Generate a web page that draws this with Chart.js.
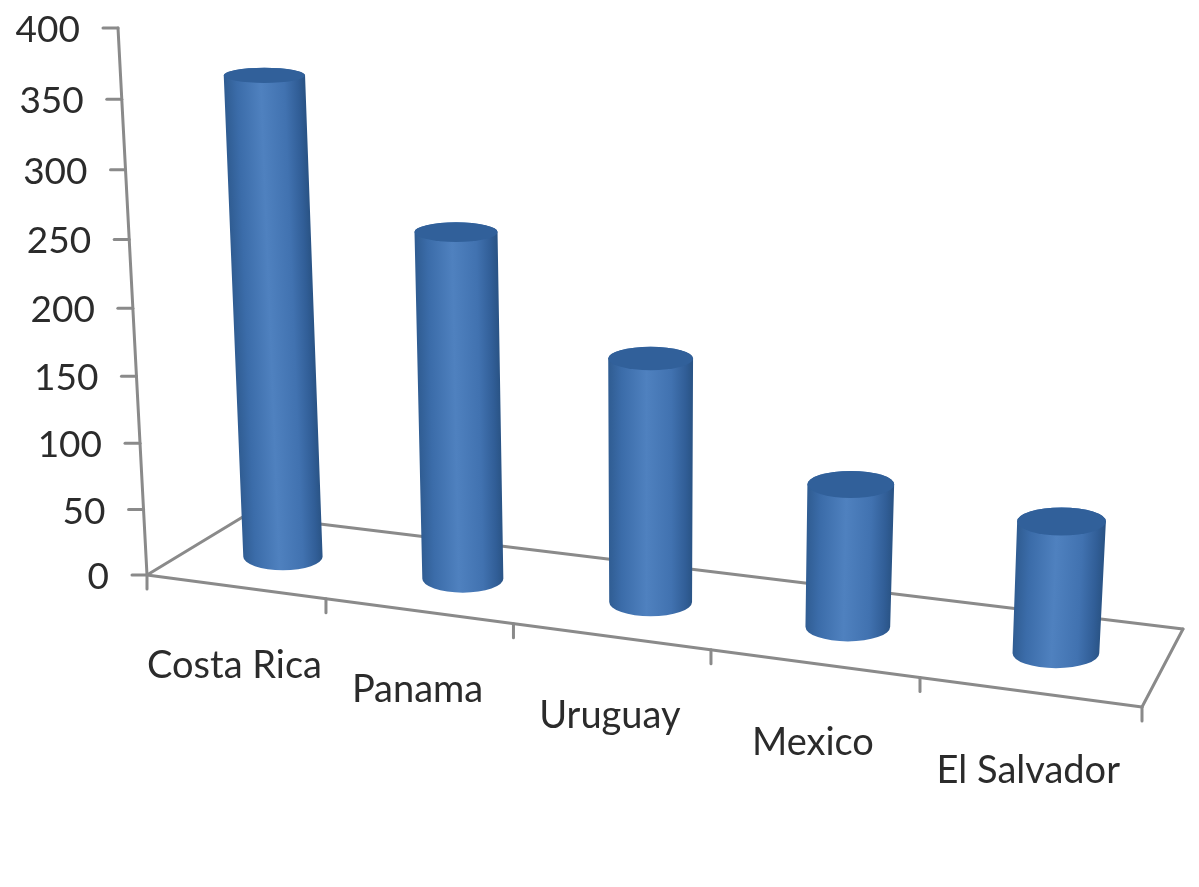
<!DOCTYPE html>
<html lang="en">
<head>
  <meta charset="UTF-8">
  <title>Cylinder chart</title>
  <script src="https://cdn.jsdelivr.net/npm/chart.js"></script>
  <style>
    html, body { margin: 0; background: #fff; }
    canvas { display: block; }
  </style>
</head>
<body>
  <canvas id="chart" width="1199" height="887"></canvas>

  <script>
    const countries = ['Costa Rica', 'Panama', 'Uruguay', 'Mexico', 'El Salvador'];
    const values = [354, 258, 183, 108, 100];
    const yMax = 400;
    const yStep = 50;

    const FONT_Y = '37px Lato, "Open Sans", sans-serif';
    const FONT_X = '38px Lato, "Open Sans", sans-serif';
    const AXIS_COLOR = '#8a8a8a';
    const TEXT_COLOR = '#2b2b2b';

    // fake perspective on top of the normal chart scales
    function fraction(scale, px) {
      return (px - scale.left) / (scale.right - scale.left);
    }
    function warpX(scale, px) {
      const t = fraction(scale, px);
      return px - t * (1 - t) * (119 + 31 * t);
    }
    function warpY(scale, value) {
      const f = value / yMax;
      return scale.getPixelForValue(value) + 27 * f * (1 - f);
    }
    function frontY(xs, ys, x) {
      return ys.bottom + 0.1327 * (x - xs.left);
    }
    function axisX(xs, ys, y) {
      return xs.left - 29 * (ys.bottom - y) / (ys.bottom - ys.top);
    }

    function line(ctx, x1, y1, x2, y2) {
      ctx.beginPath();
      ctx.moveTo(x1, y1);
      ctx.lineTo(x2, y2);
      ctx.stroke();
    }

    function drawFrame(chart) {
      const { ctx } = chart;
      const xs = chart.scales.x;
      const ys = chart.scales.y;
      const step = (xs.right - xs.left) / countries.length;
      const y0 = ys.bottom;
      const endX = xs.right;
      const endY = frontY(xs, ys, endX);

      ctx.save();
      ctx.strokeStyle = AXIS_COLOR;
      ctx.lineWidth = 3;
      ctx.lineCap = 'round';

      // value axis and floor
      line(ctx, axisX(xs, ys, ys.top), ys.top, xs.left, y0);
      line(ctx, xs.left, y0, endX, endY);
      line(ctx, xs.left, y0, xs.left + 99, y0 - 60);
      line(ctx, xs.left + 99, y0 - 60, endX + 41, endY - 78);
      line(ctx, endX + 41, endY - 78, endX, endY);

      // value ticks and labels
      ctx.font = FONT_Y;
      ctx.fillStyle = TEXT_COLOR;
      ctx.textAlign = 'right';
      ctx.textBaseline = 'middle';
      ys.ticks.forEach(tick => {
        const y = warpY(ys, tick.value);
        const x = axisX(xs, ys, y);
        line(ctx, x - 15, y, x, y);
        ctx.fillText(String(tick.value), x - 38, y + 2);
      });

      // category ticks
      for (let i = 0; i <= countries.length; i++) {
        const x = warpX(xs, xs.left + i * step);
        const y = frontY(xs, ys, x);
        line(ctx, x, y, x, y + 14);
      }

      // category labels follow the slanted front edge
      ctx.font = FONT_X;
      ctx.textAlign = 'center';
      countries.forEach((name, i) => {
        const x = warpX(xs, xs.getPixelForValue(i));
        ctx.fillText(name, x - 1, frontY(xs, ys, x) + 79);
      });
      ctx.restore();
    }

    function drawCylinder(chart, i) {
      const { ctx } = chart;
      const xs = chart.scales.x;
      const ys = chart.scales.y;
      const px = xs.getPixelForValue(i);
      const t = fraction(xs, px);
      const labelX = warpX(xs, px);

      const baseX = labelX + 48.5 - 9 * t - 17 * t * t;
      const baseY = frontY(xs, ys, labelX) - 29 - 11 * t;
      const height = ys.bottom - warpY(ys, values[i]);
      const lean = (baseX - 650) * 0.000105;
      const topX = baseX + lean * height;
      const topY = baseY - height;
      const rx = 39 + 0.0048 * (baseX - xs.left);
      const rxTop = rx + 1;
      const ryBase = 5.5 + 0.0145 * baseY;
      const ryTop = 6.5 + 0.0145 * topY;

      ctx.save();
      ctx.filter = 'blur(0.7px)';
      ctx.beginPath();
      ctx.moveTo(topX - rxTop, topY);
      ctx.lineTo(baseX - rx, baseY);
      ctx.ellipse(baseX, baseY, rx, ryBase, 0, Math.PI, 0, true);
      ctx.lineTo(topX + rxTop, topY);
      ctx.ellipse(topX, topY, rxTop, ryTop, 0, 0, Math.PI, true);
      ctx.closePath();

      const grad = ctx.createLinearGradient(-rx, 0, rx, 0);
      grad.addColorStop(0, '#305d93');
      grad.addColorStop(0.15, '#3b6ca9');
      grad.addColorStop(0.45, '#4f81bf');
      grad.addColorStop(0.75, '#4172b0');
      grad.addColorStop(0.92, '#315e97');
      grad.addColorStop(1, '#2a5486');
      // gradient leans with the cylinder, path stays as built above
      ctx.transform(1, 0, -lean, 1, baseX, baseY);
      ctx.fillStyle = grad;
      ctx.fill();
      ctx.restore();

      ctx.save();
      ctx.filter = 'blur(0.7px)';
      ctx.beginPath();
      ctx.ellipse(topX, topY, rxTop, ryTop, 0, 0, Math.PI * 2);
      ctx.fillStyle = '#31609a';
      ctx.fill();
      ctx.restore();
    }

    const cylinderPlugin = {
      id: 'cylinders',
      beforeDatasetsDraw(chart) {
        drawFrame(chart);
      },
      afterDatasetsDraw(chart) {
        values.forEach((v, i) => drawCylinder(chart, i));
      }
    };

    new Chart(document.getElementById('chart').getContext('2d'), {
      type: 'bar',
      data: {
        labels: countries,
        datasets: [{ data: values, backgroundColor: 'transparent' }]
      },
      options: {
        responsive: false,
        animation: false,
        layout: { padding: { left: 147, right: 57, top: 28, bottom: 312 } },
        plugins: { legend: { display: false }, tooltip: { enabled: false } },
        scales: {
          x: { display: false },
          y: { display: false, min: 0, max: yMax, ticks: { stepSize: yStep } }
        }
      },
      plugins: [cylinderPlugin]
    });
  </script>
</body>
</html>
